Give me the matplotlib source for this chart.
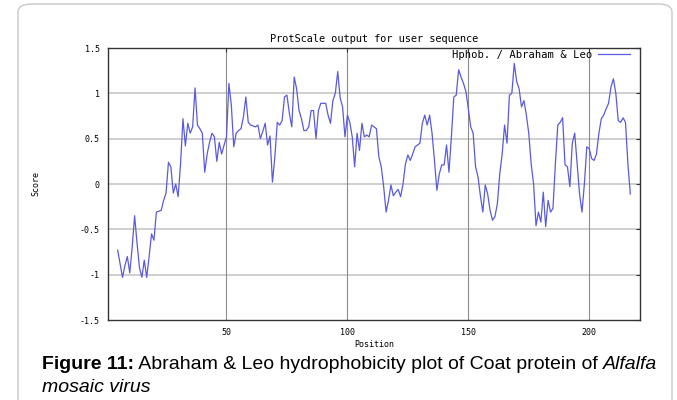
import numpy as np
import matplotlib
matplotlib.use("Agg")
import matplotlib.pyplot as plt
from matplotlib.patches import FancyBboxPatch

# ------------------------
# Hydrophobicity profile (Abraham & Leo scale, window 9)
# ------------------------

positions = np.arange(5, 218)

scores = [
    -0.73, -0.88, -1.03, -0.90, -0.80, -0.98, -0.70, -0.35, -0.65, -0.92,   # 5-14
    -1.03, -0.84, -1.03, -0.80, -0.55, -0.62, -0.31, -0.30, -0.29, -0.18,   # 15-24
    -0.10, 0.24, 0.19, -0.10, 0.00, -0.14, 0.22, 0.72, 0.42, 0.67,          # 25-34
    0.56, 0.63, 1.06, 0.65, 0.61, 0.56, 0.13, 0.33, 0.46, 0.56,             # 35-44
    0.52, 0.25, 0.46, 0.33, 0.43, 0.52, 1.11, 0.87, 0.41, 0.56,             # 45-54
    0.59, 0.61, 0.74, 0.96, 0.68, 0.65, 0.64, 0.63, 0.65, 0.50,             # 55-64
    0.58, 0.67, 0.43, 0.53, 0.02, 0.30, 0.68, 0.65, 0.70, 0.96,             # 65-74
    0.98, 0.78, 0.63, 1.18, 1.05, 0.81, 0.72, 0.59, 0.59, 0.63,             # 75-84
    0.81, 0.81, 0.50, 0.81, 0.89, 0.89, 0.89, 0.76, 0.67, 0.92,             # 85-94
    1.00, 1.24, 0.95, 0.85, 0.52, 0.76, 0.68, 0.52, 0.19, 0.56,             # 95-104
    0.37, 0.67, 0.52, 0.54, 0.52, 0.65, 0.63, 0.61, 0.30, 0.19,             # 105-114
    -0.03, -0.31, -0.18, -0.01, -0.13, -0.09, -0.06, -0.14, 0.00, 0.22,     # 115-124
    0.32, 0.26, 0.33, 0.41, 0.43, 0.45, 0.67, 0.76, 0.65, 0.76,             # 125-134
    0.56, 0.26, -0.07, 0.11, 0.21, 0.21, 0.43, 0.13, 0.52, 0.96,            # 135-144
    0.98, 1.26, 1.18, 1.11, 1.02, 0.83, 0.63, 0.56, 0.19, 0.08,             # 145-154
    -0.13, -0.31, -0.01, -0.11, -0.29, -0.40, -0.36, -0.22, 0.11, 0.33,     # 155-164
    0.65, 0.45, 0.98, 1.00, 1.33, 1.13, 1.05, 0.85, 0.92, 0.76,             # 165-174
    0.56, 0.22, 0.00, -0.46, -0.31, -0.42, -0.09, -0.47, -0.18, -0.31,      # 175-184
    -0.27, 0.22, 0.65, 0.68, 0.73, 0.21, 0.19, -0.03, 0.45, 0.56,           # 185-194
    0.22, -0.11, -0.31, 0.00, 0.41, 0.39, 0.28, 0.26, 0.33, 0.56,           # 195-204
    0.72, 0.76, 0.83, 0.89, 1.07, 1.16, 1.00, 0.70, 0.68, 0.73,             # 205-214
    0.68, 0.22, -0.11,                                                      # 215-217
]

y_ticks = [-1.5, -1, -0.5, 0, 0.5, 1, 1.5]
y_tick_labels = ["-1.5", "-1", "-0.5", "0", "0.5", "1", "1.5"]
x_ticks = [50, 100, 150, 200]

LINE_COLOR = "#5a5ae0"
MONO = "DejaVu Sans Mono"

fig = plt.figure(figsize=(6.77, 4.0), dpi=100)

# light rounded frame around the figure block
frame = FancyBboxPatch((18 / 677, -0.05), 654 / 677, 1.04,
                       boxstyle="round,pad=0,rounding_size=0.02",
                       transform=fig.transFigure, facecolor="none",
                       edgecolor="#c8c8c8", linewidth=1.0)
fig.patches.append(frame)

ax = fig.add_axes([108 / 677, 1 - 320 / 400, 532 / 677, 272 / 400])

# grid: light horizontal lines, darker vertical lines
for yv in [-1, -0.5, 0, 0.5, 1]:
    ax.axhline(yv, color="#cfcfcf", linewidth=1.4, zorder=0)
for xv in x_ticks:
    ax.axvline(xv, color="#8c8c8c", linewidth=0.8, zorder=0)

ax.plot(positions, scores, color=LINE_COLOR, linewidth=0.9,
        label="Hphob. / Abraham & Leo")

ax.set_xlim(1, 221)
ax.set_ylim(-1.5, 1.5)
ax.set_yticks(y_ticks)
ax.set_yticklabels(y_tick_labels)
ax.set_xticks(x_ticks)

# small inward ticks only on the top and right edges
ax.tick_params(axis="both", which="both", direction="in", length=3,
               left=False, bottom=False, top=True, right=True,
               labelsize=6, pad=6, color="#333333")
for lbl in ax.get_xticklabels() + ax.get_yticklabels():
    lbl.set_fontfamily(MONO)

for side in ["left", "right", "top", "bottom"]:
    ax.spines[side].set_color("#333333")
    ax.spines[side].set_linewidth(1.0)

ax.set_xlabel("Position", fontsize=6, fontfamily=MONO, labelpad=2)
ax.set_ylabel("Score", fontsize=6, fontfamily=MONO, labelpad=28)
ax.set_title("ProtScale output for user sequence", fontsize=7.4,
             fontfamily=MONO, pad=4)

leg = ax.legend(loc="upper right", bbox_to_anchor=(0.985, 1.0),
                frameon=False, markerfirst=False,
                prop={"family": MONO, "size": 7.6}, handlelength=3.0,
                handletextpad=0.6, borderaxespad=0.1, borderpad=0.1)

# caption below the chart, mixed bold / regular / italic runs
def caption_line(runs, x, y, size=14.0):
    renderer = fig.canvas.get_renderer()
    inv = fig.transFigure.inverted()
    for txt, weight, style in runs:
        t = fig.text(x, y, txt, fontsize=size, fontfamily="Liberation Sans",
                     fontweight=weight, fontstyle=style, va="baseline")
        bb = t.get_window_extent(renderer=renderer)
        x = inv.transform((bb.x1, bb.y0))[0]

caption_line([("Figure 11:", "bold", "normal"),
              (" Abraham & Leo hydrophobicity plot of Coat protein of ", "normal", "normal"),
              ("Alfalfa", "normal", "italic")],
             42 / 677, 1 - 369 / 400)
caption_line([("mosaic virus", "normal", "italic")], 42 / 677, 1 - 392 / 400)

fig.savefig("out.png", dpi=100)
